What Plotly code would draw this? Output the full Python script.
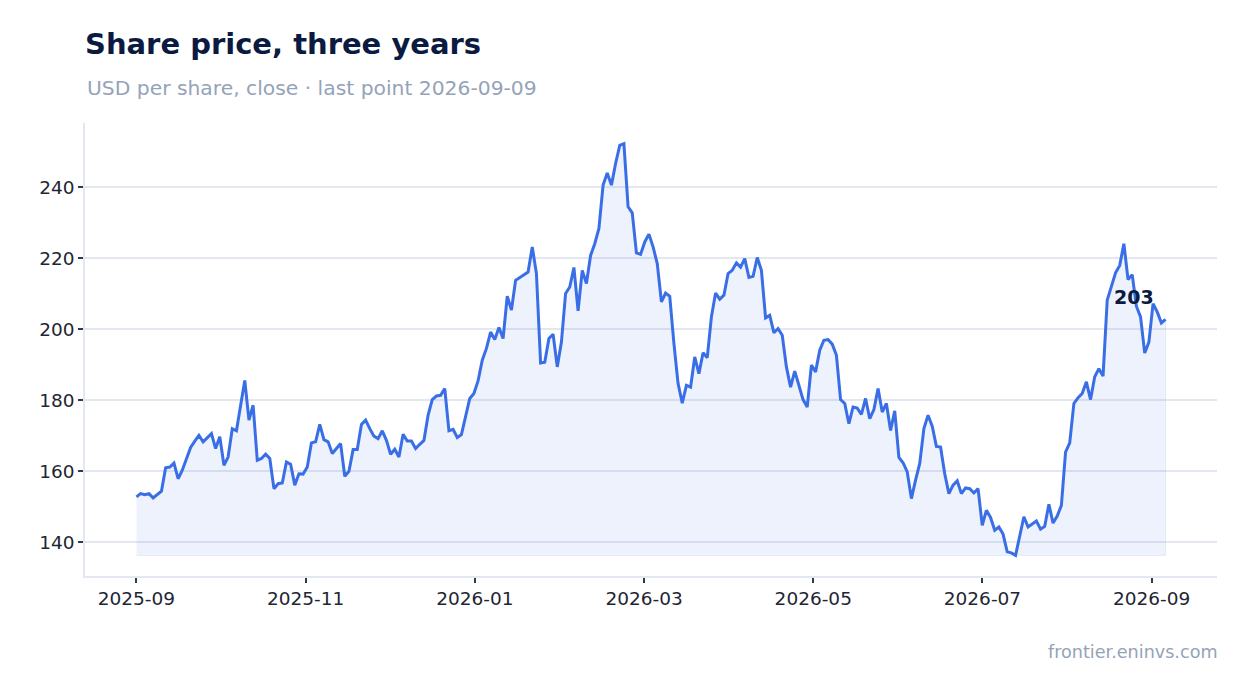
import pandas as pd
import plotly.graph_objects as go

title_text = "Share price, three years"
subtitle_text = "USD per share, close · last point 2026-09-09"
source_text = "frontier.eninvs.com"

start_date = "2025-09-01"
end_date = "2026-09-07"

prices = [
    152.8, 153.7, 153.4, 153.7, 152.5, 153.4, 154.4, 161.0, 161.2, 162.3,
    157.9, 160.3, 163.5, 166.7, 168.5, 170.1, 168.3, 169.5, 170.6, 166.4,
    169.7, 161.7, 164.0, 172.0, 171.4, 178.5, 185.6, 174.4, 178.6, 163.1,
    163.6, 164.8, 163.6, 155.1, 156.5, 156.7, 162.6, 162.0, 156.1, 159.3,
    159.2, 161.2, 168.0, 168.3, 173.2, 168.9, 168.3, 165.0, 166.4, 167.8,
    158.6, 160.0, 166.1, 166.1, 173.2, 174.4, 172.0, 169.9, 169.2, 171.4,
    168.7, 164.8, 166.2, 164.0, 170.4, 168.5, 168.5, 166.4, 167.6, 168.7,
    175.8, 180.2, 181.2, 181.4, 183.3, 171.4, 171.8, 169.5, 170.3, 175.3,
    180.5, 181.9, 185.5, 191.3, 194.6, 199.2, 197.1, 200.5, 197.4, 209.3,
    205.4, 213.8, 214.6, 215.4, 216.1, 223.2, 215.7, 190.5, 190.7, 197.4,
    198.6, 189.4, 196.4, 210.1, 211.9, 217.4, 205.2, 216.6, 212.9, 220.8,
    224.1, 228.4, 240.6, 244.0, 240.6, 246.7, 251.8, 252.3, 234.5, 232.8,
    221.5, 221.1, 224.6, 226.8, 223.2, 218.5, 207.7, 210.2, 209.3, 196.0,
    184.7, 179.2, 184.2, 183.7, 192.2, 187.5, 193.4, 192.0, 203.5, 210.2,
    208.5, 209.6, 215.7, 216.6, 218.7, 217.5, 219.9, 214.6, 214.9, 220.2,
    216.6, 203.2, 203.9, 199.0, 200.2, 198.3, 189.4, 183.7, 188.2, 184.2,
    180.2, 178.1, 189.9, 188.0, 194.1, 196.9, 197.1, 195.8, 192.7, 180.2,
    179.1, 173.4, 178.1, 177.8, 176.0, 180.5, 174.8, 177.4, 183.3, 176.7,
    179.1, 171.5, 177.0, 163.9, 162.4, 159.8, 152.3, 157.5, 162.2, 172.0,
    175.8, 172.7, 167.0, 166.8, 159.3, 153.7, 156.1, 157.3, 153.7, 155.3,
    155.1, 153.9, 155.1, 144.8, 149.0, 147.0, 143.4, 144.3, 142.3, 137.3,
    137.0, 136.3, 141.7, 147.2, 144.3, 145.1, 146.0, 143.7, 144.5, 150.7,
    145.4, 147.4, 150.4, 165.4, 168.0, 179.1, 180.7, 181.9, 185.2, 180.2,
    186.6, 188.9, 186.8, 208.2, 211.9, 215.9, 218.0, 224.1, 214.0, 215.4,
    206.5, 203.5, 193.3, 196.4, 207.2, 204.9, 201.8, 202.8,
]

y_ticks = [140, 160, 180, 200, 220, 240]

dates = pd.date_range(start_date, end_date, periods=len(prices))

LINE = "#3a6ee6"
FILL = "rgba(59,111,228,0.09)"
EDGE = "rgba(59,111,228,0.10)"
GRID = "#e3e8f0"
NAVY = "#0b1a40"
MUTED = "#94a3b8"
TICKTXT = "#1f2633"
FONT = "DejaVu Sans"

W, H = 1239, 685  # page body adds an 8px offset

pmin = min(prices)
pmax = max(prices)
span_y = pmax - pmin
span_x = dates[-1] - dates[0]

poly_x = list(dates) + list(dates[::-1])
poly_y = list(prices) + [pmin] * len(prices)

fig = go.Figure()
fig.add_trace(go.Scatter(
    x=poly_x, y=poly_y, mode="lines", fill="toself", fillcolor=FILL,
    line=dict(width=1, color=EDGE), hoverinfo="skip", showlegend=False,
))
fig.add_trace(go.Scatter(
    x=dates, y=prices, mode="lines",
    line=dict(color=LINE, width=3), showlegend=False,
))

fig.add_annotation(
    x=dates[-1], y=prices[-1], text=f"<b>{int(prices[-1] + 0.5)}</b>",
    showarrow=False, xanchor="right", yanchor="bottom",
    xshift=-10, yshift=9, font=dict(family=FONT, size=19, color=NAVY),
)
fig.add_annotation(
    xref="paper", yref="paper", x=0, y=1.077, xanchor="left", yanchor="middle",
    text=subtitle_text, showarrow=False, font=dict(family=FONT, size=20.3, color=MUTED),
)
fig.add_annotation(
    xref="paper", yref="paper", x=1, y=-0.168, xanchor="right", yanchor="middle",
    xshift=3,
    text=source_text, showarrow=False, font=dict(family=FONT, size=17.6, color=MUTED),
)

fig.update_layout(
    width=W, height=H,
    margin=dict(l=77, r=30, t=115, b=117),
    paper_bgcolor="white", plot_bgcolor="white",
    font=dict(family=FONT, color=TICKTXT),
    title=dict(text=f"<b>{title_text}</b>", x=77 / W, xanchor="left",
               xref="container", yref="container", y=1 - 36 / H, yanchor="middle",
               font=dict(family=FONT, size=29, color=NAVY)),
    showlegend=False,
)
fig.update_xaxes(
    type="date",
    range=[dates[0] - span_x * 0.05, dates[-1] + span_x * 0.05],
    tick0=start_date, dtick=61 * 86400000, tickformat="%Y-%m",
    showgrid=False, showline=True, linecolor=GRID, linewidth=1.5,
    ticks="outside", ticklen=5, tickwidth=2, tickcolor="#333a45",
    tickfont=dict(family=FONT, size=18.5, color=TICKTXT),
    zeroline=False,
)
fig.update_yaxes(
    range=[pmin - 0.05 * span_y, pmax + 0.05 * span_y],
    tickvals=y_ticks, ticktext=[str(v) for v in y_ticks],
    showgrid=True, gridcolor=GRID, gridwidth=1.5,
    showline=True, linecolor=GRID, linewidth=1.5,
    ticks="outside", ticklen=5, tickwidth=2, tickcolor="#333a45",
    tickfont=dict(family=FONT, size=18.5, color=TICKTXT),
    zeroline=False,
)

fig.write_html("out.html")
